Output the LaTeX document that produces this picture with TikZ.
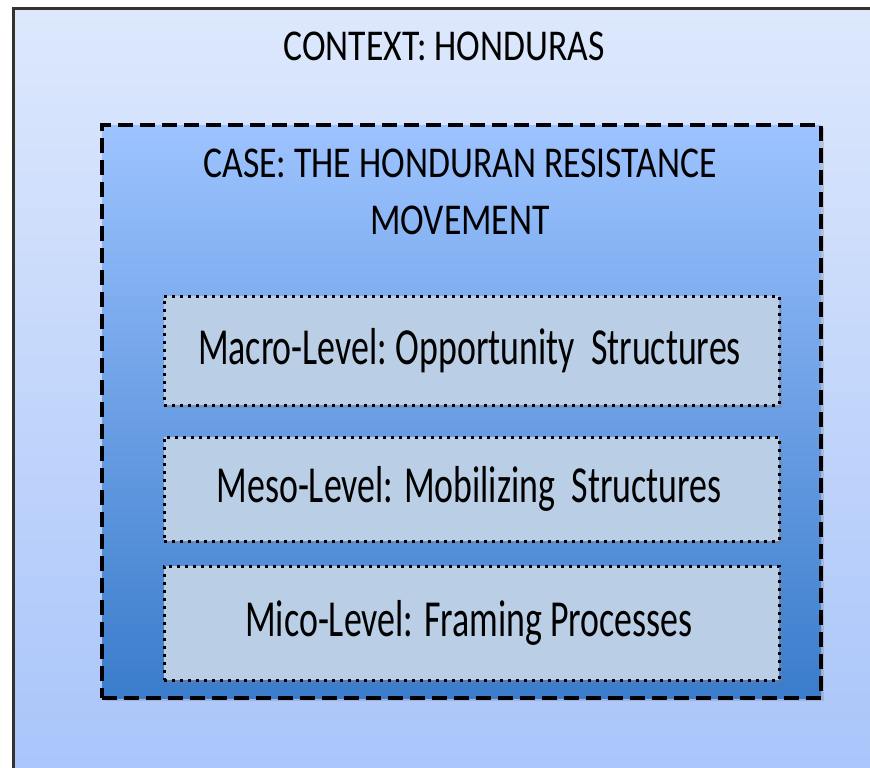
\documentclass[tikz,border=0pt]{standalone}
\usepackage{fontspec}
\setmainfont{Carlito}[FakeStretch=0.81]
\newfontfamily\levelfont{Carlito}[FakeStretch=0.69]
\usetikzlibrary{positioning, shadows}
\definecolor{ctxtop}{HTML}{DDE8FC}
\definecolor{ctxbottom}{HTML}{A8C4FA}
\definecolor{casetop}{HTML}{9DC3FF}
\definecolor{casebottom}{HTML}{3A7CCB}
\definecolor{levelfill}{HTML}{BACFE6}
\definecolor{ctxborder}{HTML}{33332E}

\begin{document}
\begin{tikzpicture}[x=1pt, y=-1pt,
    contextbox/.style={draw=ctxborder, line width=3pt, top color=ctxtop, bottom color=ctxbottom,
          minimum width=880pt, minimum height=780pt, inner sep=0pt},
    casebox/.style={draw=black, line width=3.2pt, dash pattern=on 15pt off 7pt,
          top color=casetop, bottom color=casebottom, inner sep=0pt,
          drop shadow={opacity=0.3, shadow xshift=3pt, shadow yshift=-3pt}},
    levelbox/.style={draw=black, line width=3pt, dash pattern=on 2.6pt off 5.4pt,
          fill=levelfill, inner sep=0pt, minimum width=615pt,
          drop shadow={opacity=0.3, shadow xshift=3pt, shadow yshift=-3pt}},
    titletext/.style={font=\fontsize{44}{57}\selectfont, align=center, inner sep=0pt},
    leveltext/.style={font=\levelfont\fontsize{52}{60}\selectfont, inner sep=0pt}]
  \useasboundingbox (0,0) rectangle (870,768);
  \clip (0,0) rectangle (870,768);
  % outer context frame
  \node[contextbox, anchor=north west] (context) at (12,7) {};
  \node[titletext] (contexttitle) at (444,46) {CONTEXT: HONDURAS};
  % the case
  \node[casebox, minimum width=719pt, minimum height=573pt] (case) at (461.5,411.5) {};
  \node[titletext] (casetitle) at (460,192) {CASE: THE HONDURAN RESISTANCE\\MOVEMENT};
  % three levels
  \node[levelbox, minimum height=109pt] (macro) at (471.5,350.5) {};
  \node[levelbox, minimum height=104pt] (meso) at (471.5,489) {};
  \node[levelbox, minimum height=114pt] (mico) at (471.5,623) {};
  \node[leveltext] at (469.5,351) {Macro-Level:\,Opportunity\ \ Structures};
  \node[leveltext] at (469,489) {Meso-Level: Mobilizing\ \ Structures};
  \node[leveltext] at (469,623) {Mico-Level: Framing Processes};
\end{tikzpicture}
\end{document}
